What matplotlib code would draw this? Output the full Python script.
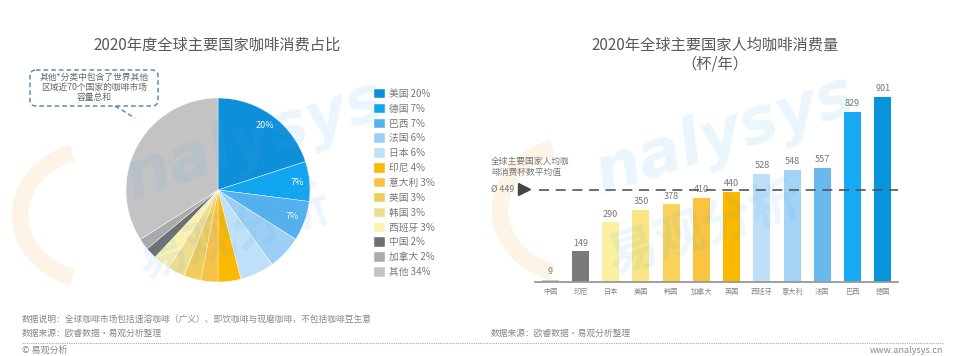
import numpy as np
import matplotlib
matplotlib.use('Agg')
import matplotlib.pyplot as plt
from matplotlib.patches import FancyBboxPatch, Arc

plt.rcParams['font.family'] = ['Noto Sans CJK SC', 'DejaVu Sans']

# pie data
pie_names = ['美国', '德国', '巴西', '法国', '日本', '印尼', '意大利', '英国', '韩国', '西班牙', '中国', '加拿大', '其他']
pie_pcts = [20, 7, 7, 6, 6, 4, 3, 3, 3, 3, 2, 2, 34]
pie_colors = ['#0e8fd9', '#13a6f0', '#55b1ee', '#9ccff5', '#bee0f8', '#fbb800', '#f8c145',
              '#f0cc5c', '#f1dc8e', '#fbf1b0', '#6f6f6f', '#ababab', '#c3c3c3']

# bar data
bar_names = ['中国', '印尼', '日本', '美国', '韩国', '加拿大', '英国', '西班牙', '意大利', '法国', '巴西', '德国']
bar_vals = [9, 149, 290, 350, 378, 410, 440, 528, 548, 557, 829, 901]
bar_colors = ['#c8c8c8', '#7a7a7a', '#faf0a0', '#fbe582', '#fbd35a', '#fac340', '#fbb800',
              '#bde0f8', '#a3d3f5', '#69b8ee', '#17aaf2', '#0995dc']
mean_val = 449

W, H = 978, 356
fig = plt.figure(figsize=(W / 100, H / 100), dpi=100)


def box(l, t, r, b):
    # pixel box -> figure fraction rect
    return [l / W, (H - b) / H, (r - l) / W, (b - t) / H]


# ---- pie ----
ax1 = fig.add_axes(box(126, 98, 310, 282))
wedges, _ = ax1.pie(pie_pcts, colors=pie_colors, startangle=90, counterclock=False,
                    wedgeprops=dict(edgecolor='white', linewidth=0.3))
ax1.set_xlim(-1, 1)
ax1.set_ylim(-1, 1)
for w, p in list(zip(wedges, pie_pcts))[:3]:
    ang = np.deg2rad((w.theta1 + w.theta2) / 2)
    ax1.text(0.86 * np.cos(ang), 0.86 * np.sin(ang), f'{p}%', color='white',
             fontsize=6.5, ha='center', va='center')

labels = [f'{n} {p}%' for n, p in zip(pie_names, pie_pcts)]
fig.legend(wedges, labels, loc='upper left', bbox_to_anchor=(369 / W, (H - 84) / H),
           frameon=False, fontsize=7, handlelength=1.1, handleheight=1.1,
           handletextpad=0.5, labelspacing=0.5, borderpad=0, labelcolor='#777777')

# ---- bars ----
ax2 = fig.add_axes(box(535, 80, 898, 282))
x = np.arange(len(bar_names))
bars = ax2.bar(x, bar_vals, width=0.56, color=bar_colors)
ax2.set_xlim(-0.5, len(bar_names) - 0.5)
ax2.set_ylim(0, 984)
for xi, v in zip(x, bar_vals):
    ax2.text(xi, v + 18, str(v), ha='center', va='bottom', fontsize=6.5, color='#777777')
ax2.axhline(mean_val, xmin=0.01, xmax=1.0, color='#555555', lw=1.2,
            linestyle=(0, (6, 4)), zorder=3)
ax2.set_xticks(x)
ax2.set_xticklabels(bar_names, fontsize=5.2, color='#888888')
ax2.tick_params(axis='x', length=0, pad=4)
ax2.set_yticks([])
for s in ['top', 'right', 'left']:
    ax2.spines[s].set_visible(False)
ax2.spines['bottom'].set_color('#999999')
ax2.spines['bottom'].set_linewidth(1.3)
ax2.patch.set_alpha(0)

# ---- overlay in pixel coordinates ----
ov = fig.add_axes([0, 0, 1, 1], zorder=5)
ov.set_xlim(0, W)
ov.set_ylim(H, 0)
ov.axis('off')
ov.patch.set_alpha(0)

# watermark
for cx, cy in [(255, 140), (725, 135)]:
    ov.text(cx, cy, 'nalysys', fontsize=46, fontweight='bold', style='italic',
            color='#4aa8e8', alpha=0.11, rotation=18, ha='center', va='center',
            family='DejaVu Sans')
for cx, cy in [(235, 235), (705, 230)]:
    ov.text(cx, cy, '易观分析', fontsize=36, fontweight='bold', color='#4aa8e8',
            alpha=0.10, rotation=18, ha='center', va='center')
for cx, cy in [(95, 215), (575, 210)]:
    ov.add_patch(Arc((cx, cy), 150, 130, angle=0, theta1=110, theta2=250,
                     color='#f7a440', lw=12, alpha=0.12))

title_c = '#595959'
ov.text(217, 45, '2020年度全球主要国家咖啡消费占比', fontsize=11, color=title_c,
        ha='center', va='center')
ov.text(715, 45, '2020年全球主要国家人均咖啡消费量', fontsize=11, color=title_c,
        ha='center', va='center')
ov.text(715, 64, '（杯/年）', fontsize=11, color=title_c, ha='center', va='center')

# callout
ov.add_patch(FancyBboxPatch((30, 70), 128, 36, boxstyle='round,pad=0,rounding_size=6',
                            fill=False, edgecolor='#5b8db8', lw=1.1, linestyle=(0, (3, 2))))
ov.plot([115, 135], [106, 118], color='#5b8db8', lw=1.1, linestyle=(0, (3, 2)))
ov.text(94, 87.5, '其他*分类中包含了世界其他\n区域近70个国家的咖啡市场\n容量总和', fontsize=6.3,
        color='#666666', ha='center', va='center', linespacing=1.2)

# mean annotation
ov.text(491, 167, '全球主要国家人均咖\n啡消费杯数平均值', fontsize=6.3, color='#777777',
        ha='left', va='center', linespacing=1.35)
ov.text(491, 189, 'Ø 449', fontsize=6.3, color='#777777', ha='left', va='center')
ov.plot([524], [189], marker='>', markersize=8, color='#444444')

# footnotes
fc = '#888888'
ov.text(22, 320, '数据说明：全球咖啡市场包括速溶咖啡（广义）、即饮咖啡与现磨咖啡，不包括咖啡豆生意',
        fontsize=6.3, color=fc, ha='left', va='center')
ov.text(22, 333, '数据来源：欧睿数据·易观分析整理', fontsize=6.3, color=fc, ha='left', va='center')
ov.text(491, 333, '数据来源：欧睿数据·易观分析整理', fontsize=6.3, color=fc, ha='left', va='center')
ov.plot([22, 943], [343, 343], color='#aaaaaa', lw=0.8, linestyle=(0, (1, 1)))
ov.text(22, 355, '© 易观分析', fontsize=6.5, color=fc, ha='left', va='bottom')
ov.text(943, 355, 'www.analysys.cn', fontsize=6.5, color=fc, ha='right', va='bottom')

fig.savefig('out.png', dpi=100)
